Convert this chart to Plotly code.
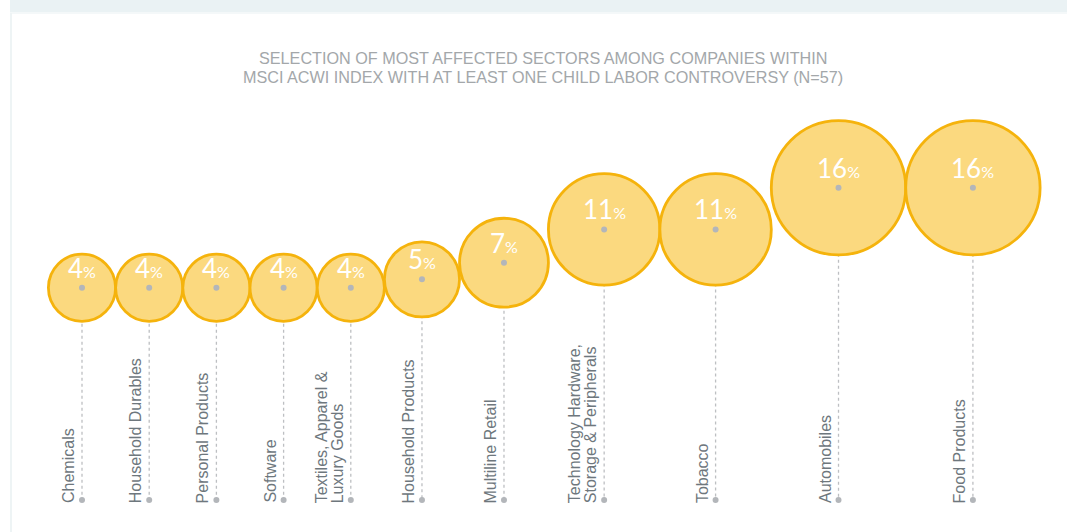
import math
import plotly.graph_objects as go

# ---------------- data ----------------
sectors = [
    "Chemicals", "Household Durables", "Personal Products", "Software",
    "Textiles, Apparel &<br>Luxury Goods", "Household Products", "Multiline Retail",
    "Technology Hardware,<br>Storage & Peripherals", "Tobacco", "Automobiles",
    "Food Products",
]
shares = [4, 4, 4, 4, 4, 5, 7, 11, 11, 16, 16]
title_lines = [
    "SELECTION OF MOST AFFECTED SECTORS AMONG COMPANIES WITHIN",
    "MSCI ACWI INDEX WITH AT LEAST ONE CHILD LABOR CONTROVERSY (N=57)",
]

# ---------------- layout / style ----------------
W, H = 1067, 532
SIZE_K = 33.6          # marker diameter (px) per sqrt(percent)
LEFT_PAD = 82 - SIZE_K  # first circle's left reach
PX_PER_UNIT = 8.33
DOT_Y_PX_AT4 = 287.7
Y_HI = 4 + DOT_Y_PX_AT4 / PX_PER_UNIT
Y_LO = Y_HI - H / PX_PER_UNIT
BOTTOM_PX = 500


def px_to_y(px):
    return Y_HI - px / PX_PER_UNIT


FILL = "#FBD97F"
EDGE = "#F5B30C"
GREY_DOT = "#B3B6BA"
LABEL_COL = "#6E777D"

diam = [SIZE_K * math.sqrt(v) for v in shares]
xs = []
for i, d in enumerate(diam):
    if i == 0:
        xs.append(LEFT_PAD + d / 2)
    else:
        xs.append(xs[-1] + (diam[i - 1] + d) / 2)

y_bottom = px_to_y(BOTTOM_PX)

fig = go.Figure()

# dotted leader lines
for x, v in zip(xs, shares):
    fig.add_trace(go.Scatter(
        x=[x, x], y=[v, y_bottom], mode="lines",
        line=dict(color="#BDBFC2", width=1.3, dash="dot"),
        hoverinfo="skip", showlegend=False,
    ))

# bubbles
fig.add_trace(go.Scatter(
    x=xs, y=shares, mode="markers",
    marker=dict(size=diam, sizemode="diameter", color=FILL,
                line=dict(color=EDGE, width=2.8), opacity=1),
    hoverinfo="skip", showlegend=False,
))

# centre dots and bottom dots
fig.add_trace(go.Scatter(
    x=xs + xs, y=shares + [y_bottom] * len(xs), mode="markers",
    marker=dict(size=6, color=GREY_DOT),
    hoverinfo="skip", showlegend=False,
))

annotations = []
# percent labels
for x, v in zip(xs, shares):
    annotations.append(dict(
        x=x, y=v, xref="x", yref="y",
        text=f"{v}<span style='font-size:16px'>%</span>",
        showarrow=False, xanchor="center", yanchor="bottom", yshift=2,
        font=dict(family="Lato", size=26, color="white"),
    ))

# sector labels (rotated)
for x, name in zip(xs, sectors):
    lines = name.split("<br>")
    n = len(lines)
    for j, ln in enumerate(lines):
        annotations.append(dict(
            x=x, y=y_bottom, xref="x", yref="y",
            text=ln, showarrow=False, textangle=-90,
            xanchor="right", yanchor="bottom",
            xshift=-3 - (n - 1 - j) * 16, yshift=-5,
            font=dict(family="Liberation Sans, Arial", size=16, color=LABEL_COL),
        ))

# title
for k, t in enumerate(title_lines):
    annotations.append(dict(
        x=543 / W, y=1 - (57.5 + 20 * k) / H, xref="paper", yref="paper",
        text=t, showarrow=False, xanchor="center", yanchor="middle",
        font=dict(family="Liberation Sans, Arial", size=16.2, color="#A3A7AA"),
    ))

shapes = [
    dict(type="rect", xref="paper", yref="paper", x0=10 / W, x1=1, y0=1 - 12 / H, y1=1,
         fillcolor="#EAF2F4", line=dict(width=0), layer="below"),
    dict(type="line", xref="paper", yref="paper", x0=10 / W, x1=1, y0=1 - 13 / H, y1=1 - 13 / H,
         line=dict(color="#F1F6F7", width=1.5), layer="below"),
    dict(type="line", xref="paper", yref="paper", x0=11 / W, x1=11 / W, y0=0, y1=1 - 13 / H,
         line=dict(color="#EEF4F5", width=2), layer="below"),
]

fig.update_layout(
    width=W, height=H,
    margin=dict(l=0, r=0, t=0, b=0),
    paper_bgcolor="white", plot_bgcolor="white",
    xaxis=dict(range=[0, W], visible=False, fixedrange=True),
    yaxis=dict(range=[Y_LO, Y_HI], visible=False, fixedrange=True),
    annotations=annotations, shapes=shapes,
    hovermode=False, showlegend=False,
)

fig.write_html(
    "out.html",
    config={"displayModeBar": False},
    post_script="document.body.style.margin='0px';document.body.style.overflow='hidden';",
)
